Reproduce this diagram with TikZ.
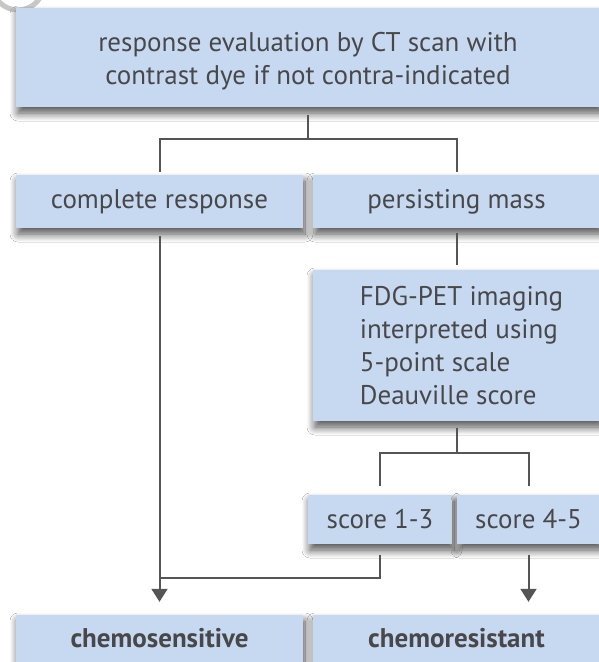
\documentclass[tikz,border=0pt]{standalone}
\usepackage{fontspec}
\setmainfont{PT Sans}
\usetikzlibrary{calc,arrows.meta,shadows.blur}
\definecolor{boxfill}{RGB}{199,217,240}
\definecolor{txt}{RGB}{72,72,74}
\definecolor{lin}{RGB}{85,85,87}
\tikzset{
  box/.style={draw=none, fill=boxfill, inner sep=0pt, text=txt,
    font=\fontsize{27}{33}\selectfont,
    blur shadow={shadow xshift=2pt, shadow yshift=-6pt, shadow blur radius=8pt, shadow opacity=70, shadow blur steps=12}},
  boldbox/.style={box, font=\fontsize{27}{33}\selectfont\bfseries},
  conn/.style={draw=lin, line width=2pt},
  arr/.style={conn, -{Triangle[width=16pt,length=13pt]}},
}
\begin{document}
\begin{tikzpicture}[x=1pt,y=-1pt]
\useasboundingbox (0,0) rectangle (599,662);
\fill[white] (0,0) rectangle (599,662);
\draw[black!22, line width=5pt] (18,-16) circle (26);
% boxes
\node[box, minimum width=584pt, minimum height=99pt, align=center] (top) at (308,57.5)
  {\rule{0pt}{26pt}response evaluation by CT scan with\\contrast dye if not contra-indicated};
\node[box, minimum width=287pt, minimum height=53pt] (cr) at (159.5,201.5) {complete response};
\node[box, minimum width=287pt, minimum height=53pt] (pm) at (456.5,201.5) {persisting mass};
\node[box, minimum width=287pt, minimum height=151pt, align=left] (fdg) at (456.5,345.5)
  {\hspace*{10pt}FDG-PET imaging\\\hspace*{10pt}interpreted using\\\hspace*{10pt}5-point scale\\\hspace*{10pt}Deauville score};
\node[box, minimum width=144pt, minimum height=49pt] (s13) at (380,519.5) {score 1-3};
\node[box, minimum width=143pt, minimum height=49pt] (s45) at (528.5,519.5) {score 4-5};
\node[boldbox, minimum width=287pt, minimum height=47pt] (cs) at (159.5,638.5) {chemosensitive};
\node[boldbox, minimum width=287pt, minimum height=47pt] (cres) at (456.5,638.5) {chemoresistant};
% connectors
\draw[conn] ($(top.south)+(0,8)$) -- ($(top.south)+(0,32)$);
\draw[conn, line join=miter] ($(cr.north)+(0,-3)$) |- ($(pm.north)+(0,-36)$) -- ($(pm.north)+(0,-3)$);
\draw[conn] ($(pm.south)+(0,5)$) -- ($(fdg.north)+(0,-5)$);
\draw[conn] ($(fdg.south)+(0,7)$) -- ($(fdg.south)+(0,32)$);
\draw[conn, line join=miter] ($(s13.north)+(0,-9)$) |- ($(s45.north)+(0,-42)$) -- ($(s45.north)+(0,-9)$);
\draw[arr] ($(cr.south)+(0,8)$) -- ($(cs.north)+(0,-13)$);
\draw[conn, line join=miter] ($(s13.south)+(0,11)$) |- ($(cs.north)+(0,-37)$);
\draw[arr] ($(s45.south)+(0,11)$) -- ($(s45.south |- cres.north)+(0,-13)$);
\end{tikzpicture}
\end{document}
